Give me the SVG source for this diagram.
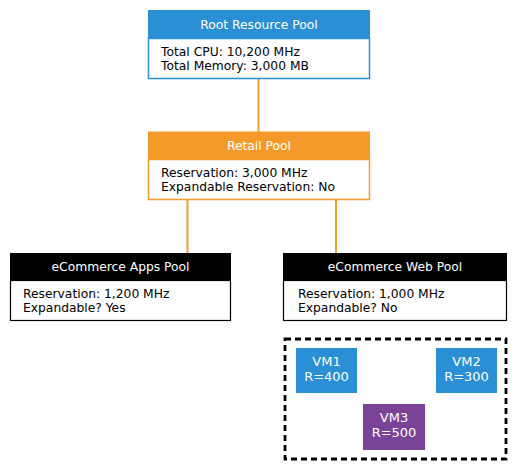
<svg xmlns="http://www.w3.org/2000/svg" width="519" height="468" viewBox="0 0 519 468">
<style>
text{font-family:"DejaVu Sans","Liberation Sans",sans-serif;font-size:12.3px}
.h{fill:#fff;text-anchor:middle}
.b{fill:#000}
.c{stroke:#f39a2a;stroke-width:2;fill:none}
.vm{fill:#fff;text-anchor:middle;font-size:13px}
</style>
<rect width="519" height="468" fill="#fff"/>
<g id="connectors">
<line class="c" x1="258.5" y1="79" x2="258.5" y2="132"/>
<line class="c" x1="187.5" y1="200" x2="187.5" y2="253"/>
<line class="c" x1="336" y1="200" x2="336" y2="253"/>
</g>
<g id="root">
<rect x="148.5" y="38.5" width="221" height="40" fill="#fff" stroke="#2a8fd4" stroke-width="1.5"/>
<rect x="148" y="10" width="222" height="28.5" fill="#2a8fd4"/>
<text class="h" x="259" y="29">Root Resource Pool</text>
<text class="b" x="161" y="56">Total CPU: 10,200 MHz</text>
<text class="b" x="161" y="70">Total Memory: 3,000 MB</text>
</g>
<g id="retail">
<rect x="148.5" y="159.5" width="221" height="40" fill="#fff" stroke="#f39a2a" stroke-width="1.5"/>
<rect x="148" y="131.5" width="222" height="28.5" fill="#f39a2a"/>
<text class="h" x="259" y="150">Retail Pool</text>
<text class="b" x="161" y="177">Reservation: 3,000 MHz</text>
<text class="b" x="161" y="191">Expandable Reservation: No</text>
</g>
<g id="apps">
<rect x="10.5" y="280.5" width="220" height="40" fill="#fff" stroke="#000" stroke-width="1.2"/>
<rect x="10" y="253" width="221" height="27.5" fill="#000"/>
<text class="h" x="120.5" y="271">eCommerce Apps Pool</text>
<text class="b" x="23" y="298">Reservation: 1,200 MHz</text>
<text class="b" x="23" y="312">Expandable? Yes</text>
</g>
<g id="web">
<rect x="283.5" y="280.5" width="223" height="40" fill="#fff" stroke="#000" stroke-width="1.2"/>
<rect x="283" y="253" width="224" height="27.5" fill="#000"/>
<text class="h" x="395" y="271">eCommerce Web Pool</text>
<text class="b" x="298" y="298">Reservation: 1,000 MHz</text>
<text class="b" x="298" y="312">Expandable? No</text>
</g>
<g id="vmgroup">
<rect x="285" y="339" width="221" height="120" fill="none" stroke="#000" stroke-width="2.8" stroke-dasharray="6,4"/>
</g>
<g id="vm1">
<rect x="296" y="348" width="61" height="45" fill="#2a8fd4"/>
<text class="vm" x="326.5" y="366">VM1</text>
<text class="vm" x="326.5" y="381">R=400</text>
</g>
<g id="vm2">
<rect x="436" y="348" width="61" height="45" fill="#2a8fd4"/>
<text class="vm" x="466.5" y="366">VM2</text>
<text class="vm" x="466.5" y="381">R=300</text>
</g>
<g id="vm3">
<rect x="363" y="404" width="62" height="46" fill="#7b4397"/>
<text class="vm" x="394" y="422">VM3</text>
<text class="vm" x="394" y="437">R=500</text>
</g>
</svg>
